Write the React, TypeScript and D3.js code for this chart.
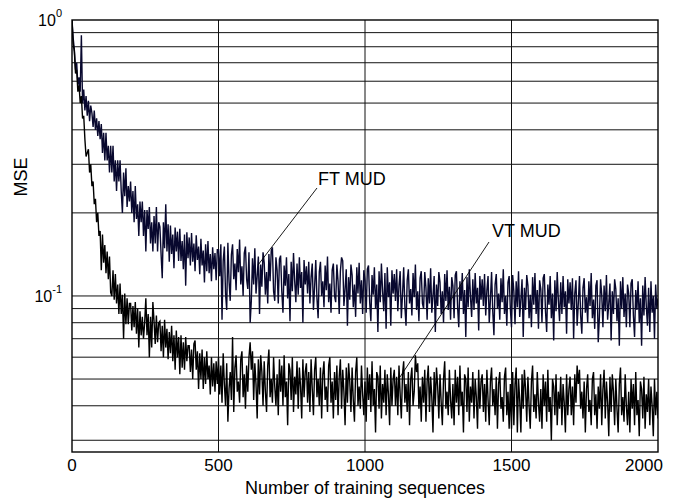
import React from "react";
import * as d3 from "d3";

const STEP = 4; // training sequences between samples

const ftMud: number[] = [
  1.0, .86, .78, .66, .70, .58, .62, .55, .88, .5, .56, .47, .53, .45, .51, .43, .49, .46, .41, .47, .40, .44, .38, .43, .37,
  .42, .33, .39, .31, .39, .31, .35, .28, .35, .28, .35, .26, .31, .24, .31, .26, .31, .24, .2, .28, .23, .29, .21, .25, .22,
  .26, .2, .24, .185, .25, .19, .215, .165, .22, .185, .22, .165, .205, .145, .205, .175, .21, .155, .185, .145, .195, .155, .21, .145, .185,
  .178, .142, .116, .185, .149, .215, .145, .182, .133, .18, .142, .167, .126, .177, .145, .171, .134, .175, .134, .158, .125, .167, .109, .17, .137,
  .163, .129, .169, .133, .155, .123, .166, .135, .151, .12, .161, .129, .146, .112, .154, .123, .158, .121, .142, .113, .15, .125, .143, .114, .147,
  .147, .118, .154, .082, .134, .151, .102, .089, .156, .113, .096, .141, .154, .115, .131, .105, .148, .122, .16, .11, .128, .1, .143, .151, .115,
  .106, .144, .08, .096, .137, .11, .149, .102, .118, .139, .086, .13, .108, .144, .132, .101, .122, .094, .142, .113, .146, .15, .104, .096, .138,
  .124, .094, .136, .14, .104, .087, .129, .109, .138, .098, .12, .081, .133, .104, .143, .113, .095, .131, .101, .138, .107, .122, .08, .135, .11,
  .128, .102, .133, .094, .117, .131, .089, .108, .135, .098, .083, .122, .133, .1, .113, .091, .129, .105, .139, .095, .111, .087, .124, .131, .1,
  .095, .13, .113, .086, .123, .138, .134, .092, .106, .125, .078, .117, .097, .13, .119, .091, .11, .084, .127, .102, .132, .094, .114, .086, .124,
  .114, .087, .125, .129, .095, .081, .119, .101, .127, .09, .11, .074, .123, .095, .131, .104, .088, .121, .076, .127, .099, .112, .078, .124, .102,
  .12, .096, .125, .088, .109, .123, .083, .101, .127, .092, .078, .114, .125, .094, .106, .085, .121, .099, .13, .089, .104, .081, .116, .123, .094,
  .09, .122, .107, .082, .116, .094, .126, .087, .1, .118, .074, .11, .092, .122, .112, .086, .104, .08, .12, .096, .124, .089, .108, .082, .117,
  .109, .083, .119, .123, .091, .077, .113, .096, .121, .086, .105, .071, .117, .091, .125, .099, .084, .115, .089, .121, .094, .107, .075, .118, .097,
  .115, .092, .12, .085, .105, .118, .08, .097, .122, .088, .072, .11, .12, .09, .102, .082, .116, .095, .125, .086, .1, .078, .112, .118, .09,
  .077, .119, .104, .079, .113, .091, .123, .084, .097, .115, .071, .107, .089, .119, .109, .083, .101, .077, .117, .093, .121, .086, .105, .076, .114,
  .106, .08, .116, .12, .088, .074, .11, .093, .118, .083, .102, .069, .114, .088, .122, .096, .081, .112, .086, .118, .091, .104, .073, .115, .094,
  .112, .089, .116, .07, .102, .114, .078, .094, .118, .085, .073, .107, .116, .087, .099, .08, .113, .092, .121, .083, .097, .076, .109, .114, .068,
  .084, .115, .101, .077, .109, .088, .119, .082, .094, .111, .069, .104, .086, .115, .106, .081, .098, .066, .113, .09, .117, .084, .102, .077, .11,
  .102, .077, .111, .115, .085, .071, .105, .089, .113, .08, .098, .066, .109, .085, .117, .092, .078, .107, .074, .113, .087, .1, .07, .11, .09,
  .098,
];

const vtMud: number[] = [
  1.0, .82, .77, .64, .66, .55, .58, .5, .53, .44, .45, .37, .32, .33, .34, .28, .3, .25, .26, .215, .225, .185, .2, .165, .172,
  .124, .167, .132, .153, .121, .145, .115, .139, .103, .1, .124, .097, .12, .094, .11, .086, .111, .086, .101, .07, .102, .079, .098, .079, .094,
  .094, .075, .092, .077, .095, .073, .09, .065, .088, .072, .084, .07, .08, .098, .072, .086, .06, .084, .065, .095, .081, .067, .085, .068, .08,
  .081, .063, .078, .06, .082, .065, .076, .059, .074, .062, .078, .058, .072, .054, .075, .06, .071, .052, .072, .055, .068, .054, .071, .058, .066,
  .066, .053, .064, .05, .067, .069, .054, .063, .046, .062, .05, .064, .046, .06, .048, .063, .05, .056, .044, .06, .047, .057, .045, .058, .048,
  .06, .044, .056, .041, .062, .048, .04, .057, .035, .046, .053, .042, .071, .038, .055, .061, .045, .049, .041, .059, .063, .043, .052, .039, .056,
  .045, .06, .068, .054, .063, .042, .057, .048, .036, .059, .044, .061, .053, .04, .058, .045, .038, .056, .064, .043, .05, .041, .06, .047, .04,
  .052, .037, .059, .045, .056, .04, .061, .043, .049, .034, .057, .054, .042, .06, .038, .051, .044, .058, .039, .055, .047, .036, .059, .043, .053,
  .057, .041, .053, .038, .059, .046, .037, .054, .06, .043, .05, .04, .055, .036, .052, .058, .042, .047, .038, .056, .06, .041, .049, .036, .053,
  .042, .056, .037, .051, .059, .039, .054, .045, .034, .055, .041, .057, .049, .038, .055, .042, .035, .053, .06, .04, .047, .039, .056, .044, .037,
  .049, .035, .055, .042, .052, .038, .058, .04, .046, .032, .053, .051, .039, .056, .036, .048, .041, .054, .037, .052, .044, .034, .055, .04, .05,
  .054, .04, .051, .037, .056, .044, .036, .052, .058, .041, .048, .038, .053, .034, .05, .055, .04, .045, .061, .053, .057, .039, .047, .035, .051,
  .041, .054, .035, .049, .056, .038, .051, .043, .032, .053, .04, .055, .047, .036, .052, .041, .034, .05, .058, .039, .045, .037, .054, .042, .036,
  .048, .034, .054, .041, .051, .037, .056, .04, .045, .032, .052, .05, .038, .055, .035, .047, .041, .053, .036, .05, .043, .033, .054, .039, .049,
  .052, .038, .048, .035, .054, .042, .034, .049, .055, .04, .046, .037, .051, .033, .048, .053, .039, .043, .035, .051, .055, .037, .045, .033, .048,
  .033, .053, .034, .048, .055, .032, .05, .042, .032, .052, .039, .054, .046, .035, .051, .04, .033, .049, .056, .038, .044, .036, .053, .041, .035,
  .046, .033, .052, .04, .049, .035, .054, .038, .043, .03, .05, .047, .037, .052, .034, .045, .039, .051, .034, .048, .041, .032, .052, .037, .046,
  .051, .037, .047, .034, .052, .041, .056, .048, .054, .039, .045, .036, .049, .032, .046, .052, .038, .042, .034, .05, .053, .037, .044, .033, .047,
  .039, .052, .034, .046, .054, .036, .049, .041, .031, .051, .038, .052, .045, .034, .05, .039, .032, .048, .055, .037, .043, .035, .052, .04, .034,
  .045, .032, .05, .039, .048, .034, .053, .037, .042, .031, .049, .046, .036, .051, .033, .044, .038, .05, .034, .047, .04, .031, .05, .037, .045,
  .036,
];

const xTicks = [0, 500, 1000, 1500, 2000];
const xGrid = [500, 1000, 1500];
const yGrid = [0.03, 0.04, 0.05, 0.06, 0.07, 0.08, 0.09, 0.1, 0.2, 0.3, 0.4, 0.5, 0.6, 0.7, 0.8, 0.9];
const yTickLabels = [
  { v: 1, exp: "0" },
  { v: 0.1, exp: "-1" },
];

const W = 676;
const H = 501;
const L = 72, R = 658, T = 20, B = 452;
const FONT = "Liberation Sans, Arial, Helvetica, sans-serif";

export default function App() {
  const x = d3.scaleLinear().domain([0, 2000]).range([L, R]);
  const y = d3.scaleLog().domain([0.0272, 1]).range([B, T]);
  const line = d3
    .line<number>()
    .x((_, i) => x(i * STEP))
    .y((d) => y(d));

  return (
    <svg
      width={W}
      height={H}
      style={{ position: "absolute", left: 0, top: 0, background: "#fff" }}
      fontFamily={FONT}
    >
      <rect x={0} y={0} width={W} height={H} fill="#fff" />
      <defs>
        <clipPath id="plot">
          <rect x={L} y={T} width={R - L} height={B - T} />
        </clipPath>
      </defs>
      {yGrid.map((v) => (
        <line key={"gy" + v} x1={L} x2={R} y1={y(v)} y2={y(v)} stroke="#111" strokeWidth={1} />
      ))}
      {xGrid.map((v) => (
        <line key={"gx" + v} x1={x(v)} x2={x(v)} y1={T} y2={B} stroke="#111" strokeWidth={1} />
      ))}
      <g clipPath="url(#plot)">
        <path d={line(ftMud) || ""} fill="none" stroke="#08082e" strokeWidth={1.4} strokeLinejoin="miter" />
        <path d={line(vtMud) || ""} fill="none" stroke="#000" strokeWidth={1.4} strokeLinejoin="miter" />
      </g>
      <rect x={L} y={T} width={R - L} height={B - T} fill="none" stroke="#000" strokeWidth={1.4} />
      {xTicks.map((v) => (
        <text
          key={"xt" + v}
          x={v === 2000 ? x(v) - 14 : x(v)}
          y={471}
          fontSize={17}
          textAnchor="middle"
          fill="#000"
        >
          {v}
        </text>
      ))}
      {yTickLabels.map((t) => (
        <text key={"yt" + t.v} x={62} y={y(t.v) + 6} fontSize={16} textAnchor="end" fill="#000">
          10
          <tspan fontSize={11} dy={-9}>
            {t.exp}
          </tspan>
        </text>
      ))}
      <text x={365} y={494} fontSize={18} textAnchor="middle" fill="#000">
        Number of training sequences
      </text>
      <text
        transform="translate(27,177) rotate(-90)"
        fontSize={18}
        textAnchor="middle"
        fill="#000"
      >
        MSE
      </text>
      <text x={318} y={185} fontSize={18} fill="#000">
        FT MUD
      </text>
      <line x1={317} y1={188} x2={258} y2={265} stroke="#000" strokeWidth={0.9} />
      <text x={492} y={237} fontSize={18} fill="#000">
        VT MUD
      </text>
      <line x1={489} y1={242} x2={400} y2={377} stroke="#000" strokeWidth={0.9} />
    </svg>
  );
}
